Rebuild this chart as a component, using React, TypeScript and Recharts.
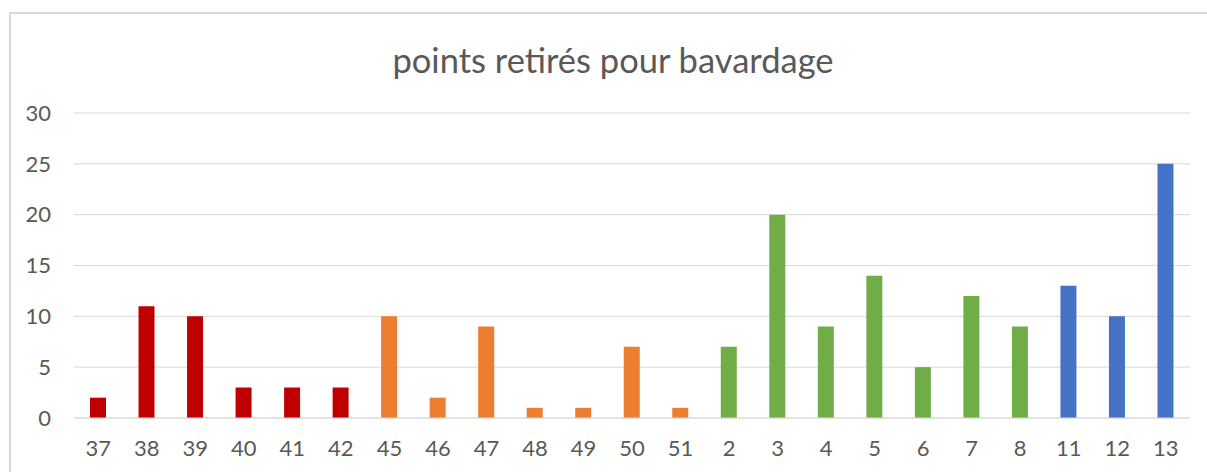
import { BarChart, Bar, XAxis, YAxis, CartesianGrid, Cell } from "recharts"

// four groups of classes, each with its own colour
const redClasses = ["37", "38", "39", "40", "41", "42"]
const redPoints = [2, 11, 10, 3, 3, 3]
const orangeClasses = ["45", "46", "47", "48", "49", "50", "51"]
const orangePoints = [10, 2, 9, 1, 1, 7, 1]
const greenClasses = ["2", "3", "4", "5", "6", "7", "8"]
const greenPoints = [7, 20, 9, 14, 5, 12, 9]
const blueClasses = ["11", "12", "13"]
const bluePoints = [13, 10, 25]

const yTicks = [0, 5, 10, 15, 20, 25, 30]

const colors: Record<string, string> = {
  red: "#C00000",
  orange: "#ED7D31",
  green: "#70AD47",
  blue: "#4472C4",
}

const build = (group: string, cats: string[], vals: number[]) =>
  cats.map((c, i) => ({ name: c, value: vals[i], group }))

const data = [
  ...build("red", redClasses, redPoints),
  ...build("orange", orangeClasses, orangePoints),
  ...build("green", greenClasses, greenPoints),
  ...build("blue", blueClasses, bluePoints),
]

const font = "Lato, 'Open Sans', sans-serif"

export default function App() {
  return (
    <div
      style={{
        position: "absolute",
        left: 0,
        top: 0,
        width: 1207,
        height: 472,
        overflow: "hidden",
        background: "#fff",
        fontFamily: font,
      }}
    >
      <div
        style={{
          position: "absolute",
          left: 9,
          top: 12,
          width: 1220,
          height: 500,
          border: "2px solid #d9d9d9",
          boxSizing: "border-box",
        }}
      />
      <div
        style={{
          position: "absolute",
          left: 0,
          width: 1226,
          top: 40,
          textAlign: "center",
          fontSize: 34.5,
          color: "#595959",
          lineHeight: "40px",
        }}
      >
        points retirés pour bavardage
      </div>
      <div style={{ position: "absolute", left: 0, top: 0 }}>
        <BarChart
          width={1207}
          height={472}
          data={data}
          margin={{ top: 113, right: 17, bottom: 0, left: 0 }}
          barSize={16}
        >
          <CartesianGrid vertical={false} stroke="#d9d9d9" strokeWidth={1} />
          <XAxis
            dataKey="name"
            interval={0}
            height={54}
            tickLine={false}
            tickSize={0}
            tickMargin={22}
            axisLine={{ stroke: "#d9d9d9" }}
            tick={{ fill: "#595959", fontSize: 22, fontFamily: font }}
          />
          <YAxis
            width={74}
            domain={[0, 30]}
            ticks={yTicks}
            axisLine={false}
            tickLine={false}
            tickSize={0}
            tickMargin={23}
            tick={{ fill: "#595959", fontSize: 22, fontFamily: font }}
          />
          <Bar dataKey="value" isAnimationActive={false}>
            {data.map((d, i) => (
              <Cell key={`cell-${i}`} fill={colors[d.group]} />
            ))}
          </Bar>
        </BarChart>
      </div>
    </div>
  )
}
